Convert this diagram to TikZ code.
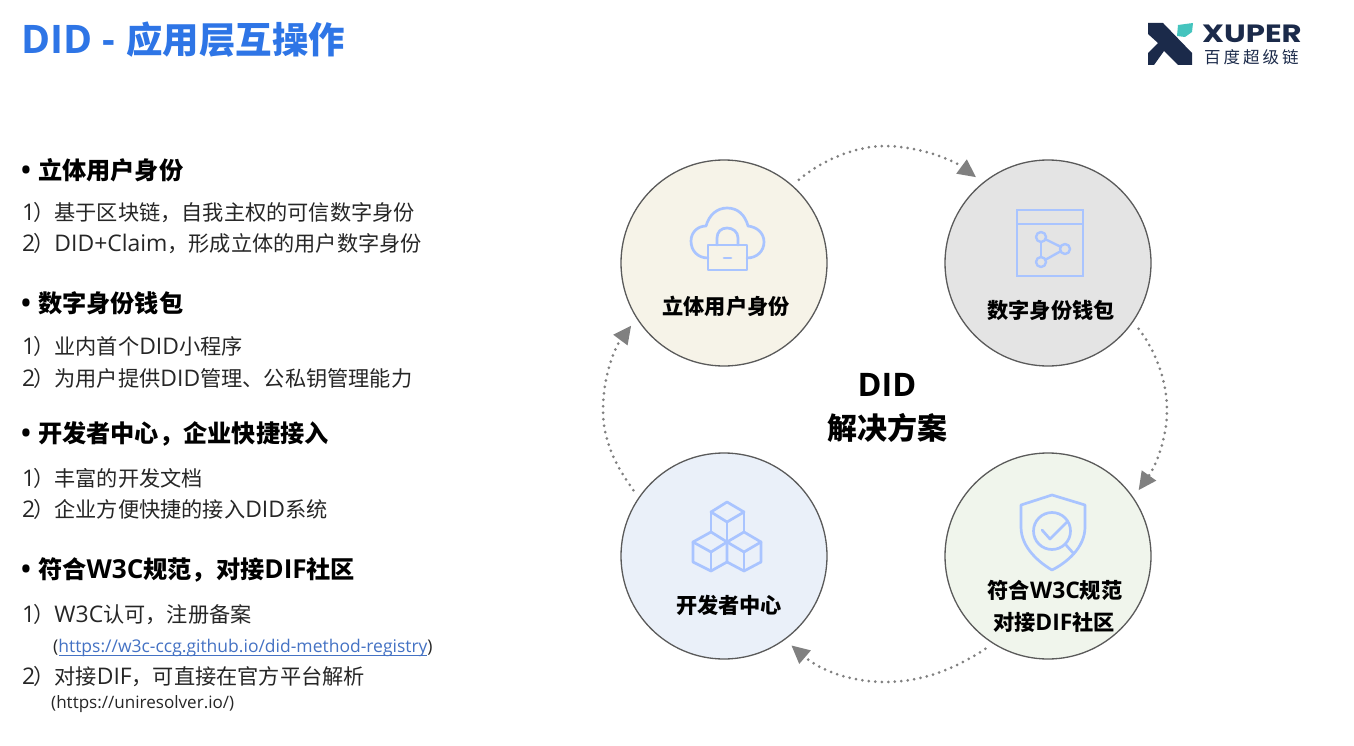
\documentclass[tikz,border=0pt]{standalone}
\usepackage{fontspec}
\usetikzlibrary{arrows.meta,calc}
\setmainfont{Noto Sans CJK SC}
\newfontfamily\ltn[Scale=1.08]{Open Sans}
\newfontfamily\logofont{Poppins}
\newcommand{\lt}[1]{{\ltn #1}}
\newcommand{\itemno}[1]{{\ltn #1}\kern-2pt}
\definecolor{titleblue}{HTML}{2E75E6}
\definecolor{bodyink}{HTML}{262626}
\definecolor{linkblue}{HTML}{4472C4}
\definecolor{iconblue}{HTML}{A9C4FF}
\definecolor{navy}{HTML}{1B2A4A}
\definecolor{leaf}{HTML}{45C4BE}
\definecolor{flowgray}{HTML}{808080}
\definecolor{ringgray}{HTML}{5A5A5A}
\definecolor{fillA}{HTML}{F6F3E8}
\definecolor{fillB}{HTML}{E4E4E4}
\definecolor{fillC}{HTML}{F0F5EC}
\definecolor{fillD}{HTML}{EAF0F9}
\tikzset{
  titletext/.style={anchor=base west,inner sep=0pt,font=\bfseries\fontsize{36.4}{36.4}\selectfont,text=titleblue},
  headtext/.style={anchor=base west,inner sep=0pt,font=\bfseries\fontsize{24.2}{24.2}\selectfont,text=black},
  bodytext/.style={anchor=base west,inner sep=0pt,font=\fontsize{21.2}{21.2}\selectfont,text=bodyink},
  smalltext/.style={anchor=base west,inner sep=0pt,font=\fontsize{16.2}{16.2}\selectfont,text=bodyink},
  ring/.style={circle,draw=ringgray,line width=1.3pt,minimum size=206pt,inner sep=0pt,outer sep=9pt},
  circlelabel/.style={anchor=base,inner sep=0pt,font=\bfseries\fontsize{21.2}{21.2}\selectfont,text=black},
  centerlabel/.style={anchor=base,inner sep=0pt,font=\bfseries\fontsize{30}{30}\selectfont,text=black},
  icon/.style={draw=iconblue,line width=2.7pt,line join=round,line cap=round},
  flow/.style={draw=flowgray,line width=3pt,line cap=round,dash pattern=on 0pt off 6.5pt,
    -{Triangle[length=18pt,width=17pt,fill=flowgray]}},
}
\begin{document}
\begin{tikzpicture}[x=1pt,y=-1pt]
\useasboundingbox (0,0) rectangle (1354,746);
\fill[white] (0,0) rectangle (1354,746);

% title
\node[titletext] (title) at (21,54) {\lt{DID - }\hspace{1pt}应用层互操作};

% logo
\fill[navy] (1148,23) -- (1163,23) -- (1192,53) -- (1192,65) -- (1178,65) -- (1164,51) -- (1154,65)
  -- (1148,65) -- (1148,53) -- (1158,43) -- (1148,34) -- cycle;
\fill[leaf] (1178,25) -- (1193,23) -- (1192,32) -- (1185,37) -- (1177,36) -- cycle;
\node[anchor=base west,inner sep=0pt,text=navy,text height=18pt,text depth=0pt,font=\logofont\bfseries\fontsize{25}{25}\selectfont] (logoword) at (1202,42.5) {\scalebox{1.23}[1]{XUPER}};
\node[anchor=base west,inner sep=0pt,text=navy,text height=13pt,text depth=2pt,font=\fontsize{16.5}{16.5}\selectfont] (logocn) at (1204,64) {百\hspace{3pt}度\hspace{3pt}超\hspace{3pt}级\hspace{3pt}链};

% left column
\node[headtext] (h1) at (21,180) {\makebox[17pt][l]{\lt{•}}立体用户身份};
\node[bodytext] (b11) at (22,220) {\itemno{1}）基于区块链，自我主权的可信数字身份};
\node[bodytext] (b12) at (22,251) {\itemno{2}）\lt{DID+Claim}，形成立体的用户数字身份};
\node[headtext] (h2) at (21,312) {\makebox[17pt][l]{\lt{•}}数字身份钱包};
\node[bodytext] (b21) at (22,354) {\itemno{1}）业内首个\lt{DID}小程序};
\node[bodytext] (b22) at (22,386) {\itemno{2}）为用户提供\lt{DID}管理、公私钥管理能力};
\node[headtext] (h3) at (21,442) {\makebox[17pt][l]{\lt{•}}开发者中心，企业快捷接入};
\node[bodytext] (b31) at (22,486) {\itemno{1}）丰富的开发文档};
\node[bodytext] (b32) at (22,517) {\itemno{2}）企业方便快捷的接入\lt{DID}系统};
\node[headtext] (h4) at (21,578) {\makebox[17pt][l]{\lt{•}}符合\lt{W3C}规范，对接\lt{DIF}社区};
\node[bodytext] (b41) at (22,622) {\itemno{1}）\lt{W3C}认可，注册备案};
\node[smalltext] (b42) at (53,652.5) {\lt{(}\textcolor{linkblue}{\lt{https://w3c-ccg.github.io/did-method-registry}}\lt{)}};
\draw[linkblue,line width=1pt] ($(b42.base west)+(6,3)$) -- ($(b42.base east)+(-6,3)$);
\node[bodytext] (b43) at (22,684) {\itemno{2}）对接\lt{DIF}，可直接在官方平台解析};
\node[smalltext,font=\fontsize{15.8}{15.8}\selectfont] (b44) at (51,708.5) {\lt{(https://uniresolver.io/)}};

% circles
\node[ring,fill=fillA] (n1) at (724,263) {};
\node[ring,fill=fillB] (n2) at (1048,263) {};
\node[ring,fill=fillC] (n3) at (1048,556) {};
\node[ring,fill=fillD] (n4) at (724,556) {};

% connectors
\draw[flow] (n1.48) .. controls (825,158) and (858,146) .. (885,146) .. controls (915,146) and (950,158) .. (n2.130);
\draw[flow] (n2.-36) .. controls (1155,350) and (1167,380) .. (1167,410) .. controls (1167,440) and (1155,467) .. (n3.36);
\draw[flow] (n3.-124) .. controls (950,672) and (918,682) .. (885,682) .. controls (850,682) and (820,670) .. (n4.-53);
\draw[flow] (n4.144) .. controls (615,465) and (603,440) .. (603,410) .. controls (603,380) and (613,350) .. (n1.-146);

% icon: cloud with lock
\draw[icon] (708,258) .. controls (698,258) and (691,251) .. (691,241) .. controls (691,232) and (698,226) .. (706,226)
  .. controls (709,215) and (717,208) .. (727,208) .. controls (738,208) and (745,215) .. (748,226)
  .. controls (757,227) and (764,233) .. (764,242) .. controls (764,251) and (757,258) .. (747,258);
\draw[icon] (708,245) rectangle (747,270);
\draw[icon] (717,245) -- (717,238) .. controls (717,232) and (721,228) .. (727,228) .. controls (733,228) and (738,232) .. (738,238) -- (738,245);
\draw[icon] (724,258) -- (731,258);

% icon: wallet window
\draw[icon,line cap=butt,line join=miter] (1017,210) rectangle (1083,276);
\draw[icon,line cap=butt] (1017,224) -- (1083,224);
\draw[icon,line width=2.4pt] (1041,237) circle (5);
\draw[icon,line width=2.4pt] (1065,249) circle (5);
\draw[icon,line width=2.4pt] (1041,262) circle (5);
\draw[icon,line width=2.4pt] (1041,242) -- (1041,257);
\draw[icon,line width=2.4pt] (1045.5,239.3) -- (1060.5,246.7);
\draw[icon,line width=2.4pt] (1045.5,259.7) -- (1060.5,251.3);

% icon: shield with magnifier
\draw[icon] (1052,495) -- (1021,505) -- (1021,527) .. controls (1021,548) and (1040,563) .. (1052,570)
  .. controls (1066,563) and (1085,548) .. (1085,527) -- (1085,505) -- cycle;
\draw[icon] (1052,531) circle (18.5);
\draw[icon] (1066,545) -- (1074,554);
\draw[icon] (1042,530) -- (1050,539) -- (1067,522);

% icon: cubes
\draw[icon] (711,512) -- (727,502) -- (744,512) -- (727,522) -- cycle;
\draw[icon] (711,512) -- (711,532);
\draw[icon] (744,512) -- (744,532);
\draw[icon] (727,522) -- (727,542);
\draw[icon] (693,542) -- (711,532) -- (727,542) -- (711,552) -- cycle;
\draw[icon] (693,542) -- (693,562) -- (711,571) -- (727,562) -- (727,542);
\draw[icon] (711,552) -- (711,571);
\draw[icon] (727,542) -- (744,532) -- (761,542) -- (744,552) -- cycle;
\draw[icon] (761,542) -- (761,562) -- (744,571) -- (727,562);
\draw[icon] (744,552) -- (744,571);

% labels
\node[circlelabel] (l1) at (726,314) {立体用户身份};
\node[circlelabel] (l2) at (1051,318) {数字身份钱包};
\node[circlelabel] (l3a) at (1055,598) {符合\lt{W3C}规范};
\node[circlelabel] (l3b) at (1054,630) {对接\lt{DIF}社区};
\node[circlelabel] (l4) at (729,613) {开发者中心};
\node[centerlabel] (c1) at (887,396) {\lt{DID}};
\node[centerlabel] (c2) at (887,439) {解决方案};
\end{tikzpicture}
\end{document}
